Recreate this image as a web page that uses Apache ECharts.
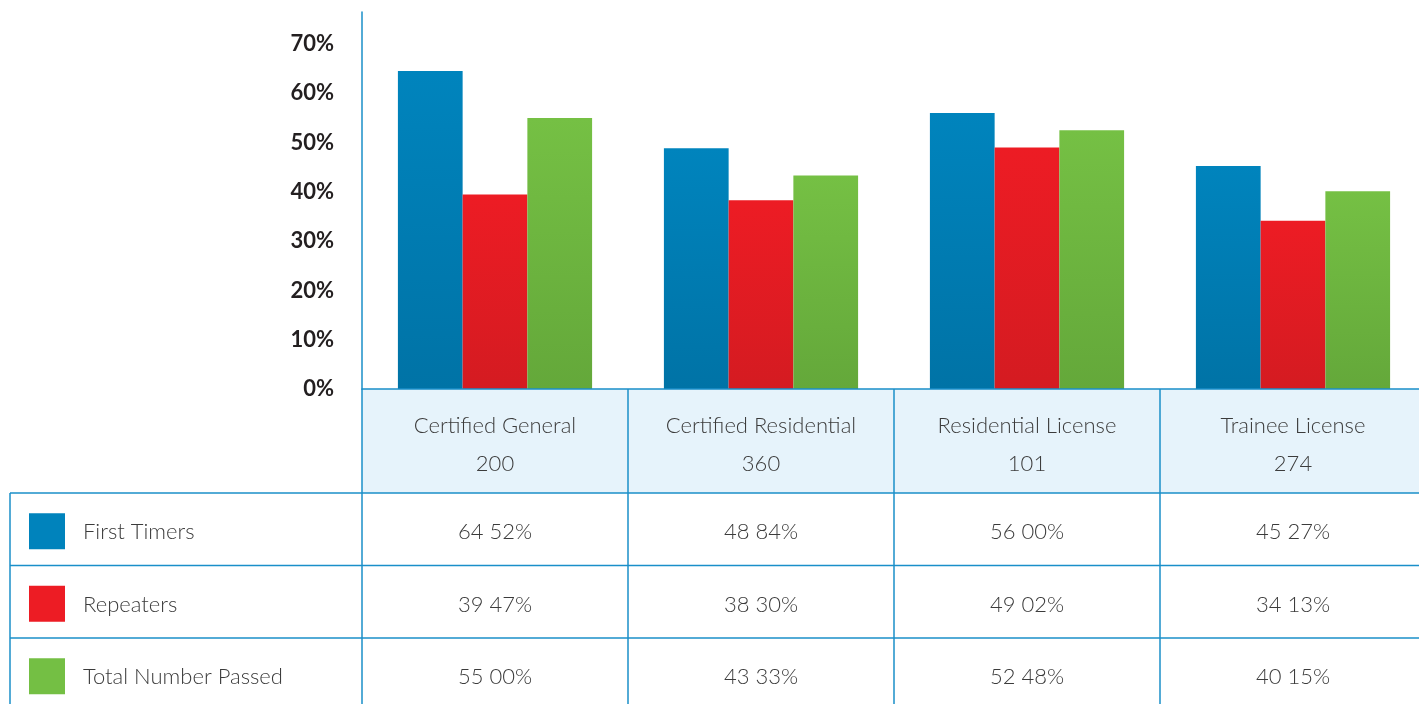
<!DOCTYPE html>
<html>
<head>
<meta charset="utf-8">
<script src="https://cdn.jsdelivr.net/npm/echarts@6/dist/echarts.min.js"></script>
<style>
html,body{margin:0;padding:0;background:#fff;overflow:hidden;}
#c{width:1426px;height:704px;}
</style>
</head>
<body>
<div id="c"></div>
<script>
const categories = ['Certified General', 'Certified Residential', 'Residential License', 'Trainee License'];
const counts = [200, 360, 101, 274];
const seriesNames = ['First Timers', 'Repeaters', 'Total Number Passed'];
const firstTimers = [64.52, 48.84, 56.00, 45.27];
const repeaters = [39.47, 38.30, 49.02, 34.13];
const totalPassed = [55.00, 43.33, 52.48, 40.15];
const yTicks = [0, 10, 20, 30, 40, 50, 60, 70];

const seriesData = [firstTimers, repeaters, totalPassed];
const colorsTop = ['#0084bd', '#ed1c24', '#75c044'];
const colorsBot = ['#0073a6', '#d41b21', '#64a83a'];
const legendColors = ['#0083bc', '#ed1c24', '#74bf44'];

const lineColor = '#1a8fc9';
const textColor = '#3b3b3b';
const FONT = 'Lato, "Open Sans", sans-serif';

const W = 1426;
const gridLeft = 362, axisY = 389;
const gridWidth = W - gridLeft;
const catW = gridWidth / categories.length;
const headerBottom = 493;
const rowH = 72.5;

function fmt(v) { return v.toFixed(2).replace('.', ' ') + '%'; }

const chart = echarts.init(document.getElementById('c'), null, {renderer: 'canvas'});

const graphics = [];
graphics.push({type: 'rect', z: -10, shape: {x: gridLeft, y: axisY, width: W - gridLeft, height: headerBottom - axisY}, style: {fill: '#e6f3fb'}});
for (let r = 0; r <= seriesNames.length; r++) {
  const y = headerBottom + r * rowH;
  graphics.push({type: 'line', z: 5, shape: {x1: 10, y1: y, x2: W, y2: y}, style: {stroke: lineColor, lineWidth: 1.5}});
}
graphics.push({type: 'line', z: 5, shape: {x1: 10, y1: headerBottom, x2: 10, y2: 704}, style: {stroke: lineColor, lineWidth: 1.5}});
for (let k = 0; k <= categories.length; k++) {
  const x = gridLeft + k * catW;
  graphics.push({type: 'line', z: 5, shape: {x1: x, y1: axisY, x2: x, y2: 704}, style: {stroke: lineColor, lineWidth: 1.5}});
}
seriesNames.forEach((name, r) => {
  const cy = headerBottom + r * rowH + rowH / 2 + 2;
  graphics.push({type: 'rect', shape: {x: 29, y: cy - 18, width: 36, height: 36}, style: {fill: legendColors[r]}});
  graphics.push({type: 'text', x: 83, y: cy + 1, style: {text: name, fill: textColor, font: '300 22px ' + FONT, textVerticalAlign: 'middle', textAlign: 'left'}});
  seriesData[r].forEach((v, c) => {
    graphics.push({type: 'text', x: gridLeft + (c + 0.5) * catW, y: cy + 1, style: {text: fmt(v), fill: textColor, font: '300 22px ' + FONT, textVerticalAlign: 'middle', textAlign: 'center'}});
  });
});

const option = {
  animation: false,
  backgroundColor: '#fff',
  grid: {left: gridLeft, right: 0, top: 12, bottom: 704 - axisY, containLabel: false},
  xAxis: {
    type: 'category',
    data: categories,
    axisLine: {show: true, lineStyle: {color: lineColor, width: 1.5}},
    axisTick: {show: false},
    axisLabel: {
      margin: 18,
      interval: 0,
      formatter: function (v, i) { return '{a|' + v + '}\n{a|' + counts[i] + '}'; },
      rich: {a: {fontFamily: FONT, fontWeight: 300, fontSize: 22, color: textColor, lineHeight: 38, align: 'center'}}
    },
    z: 10
  },
  yAxis: {
    type: 'value',
    min: 0,
    max: 76.5,
    interval: 10,
    splitLine: {show: false},
    axisTick: {show: false},
    axisLine: {show: true, lineStyle: {color: lineColor, width: 1.5}},
    axisLabel: {
      margin: 28,
      color: '#231f20',
      fontFamily: FONT,
      fontWeight: 'bold',
      fontSize: 22,
      formatter: function (v) { return yTicks.indexOf(Math.round(v)) >= 0 && Math.abs(v - Math.round(v)) < 1e-6 ? v + '%' : ''; }
    }
  },
  series: seriesNames.map((name, i) => ({
    name: name,
    type: 'bar',
    data: seriesData[i],
    barGap: '0%',
    barCategoryGap: '27%',
    itemStyle: {
      color: new echarts.graphic.LinearGradient(0, 0, 0, 1, [
        {offset: 0, color: colorsTop[i]},
        {offset: 1, color: colorsBot[i]}
      ])
    }
  })),
  graphic: graphics
};
chart.setOption(option);
</script>
</body>
</html>
